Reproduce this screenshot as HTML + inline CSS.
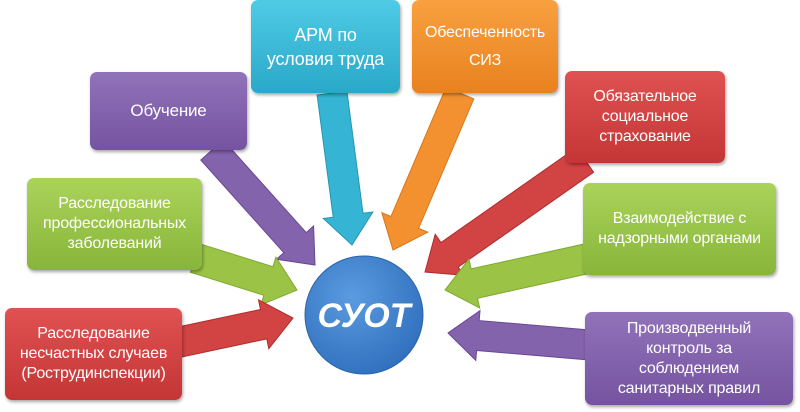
<!DOCTYPE html>
<html><head><meta charset="utf-8"><style>
body{margin:0;background:#fff;width:800px;height:412px;overflow:hidden;font-family:"Liberation Sans","Noto Sans CJK SC",sans-serif}
svg{position:absolute;left:0;top:0}
.b{position:absolute;border-radius:7px;color:#fff;display:flex;align-items:center;justify-content:center;text-align:center;font-size:16px;line-height:20px;box-shadow:1px 2px 3px rgba(0,0,0,.35);box-sizing:border-box;padding:0 3px;letter-spacing:-0.2px}
</style></head><body>
<svg width="800" height="412" id="s"><defs>
<radialGradient id="cg" cx="40%" cy="35%" r="70%"><stop offset="0" stop-color="#5b9be0"/><stop offset="1" stop-color="#2f6fbd"/></radialGradient>
</defs><g id="ar"></g>
<circle cx="364" cy="315" r="59" fill="url(#cg)" stroke="#2c64a8" stroke-width="1"/>
<text x="364" y="327" text-anchor="middle" font-family="Liberation Sans, sans-serif" font-size="34" font-weight="bold" font-style="italic" fill="#fff">СУОТ</text>
</svg>
<div class="b" style="left:251px;top:0;width:149px;height:93px;background:linear-gradient(#4fcbe6,#2aa8c8);font-size:18px;line-height:24px">АРМ по<br>условия труда</div>
<div class="b" style="left:412px;top:0;width:146px;height:93px;background:linear-gradient(#f9a040,#e8821f);line-height:28px">Обеспеченность<br>СИЗ</div>
<div class="b" style="left:90px;top:72px;width:157px;height:78px;background:linear-gradient(#9173b9,#7553a0);font-size:17px">Обучение</div>
<div class="b" style="left:27px;top:178px;width:175px;height:92px;background:linear-gradient(#aad35a,#88b53a)">Расследование<br>профессиональных<br>заболеваний</div>
<div class="b" style="left:5px;top:308px;width:177px;height:92px;background:linear-gradient(#e05252,#c43636)">Расследование<br>несчастных случаев<br>(Рострудинспекции)</div>
<div class="b" style="left:565px;top:71px;width:160px;height:92px;background:linear-gradient(#e05252,#c43636)">Обязательное<br>социальное<br>страхование</div>
<div class="b" style="left:583px;top:183px;width:193px;height:92px;background:linear-gradient(#aad35a,#88b53a)">Взаимодействие с<br>надзорными органами</div>
<div class="b" style="left:585px;top:312px;width:208px;height:93px;background:linear-gradient(#9173b9,#7553a0)">Производвенный<br>контроль за<br>соблюдением<br>санитарных правил</div>
<script>
var A=[[332,93,352,245,'#35b5d3','#2596b3'],[460,93,393,250,'#f39130','#d8761c'],[212,150,315,265,'#8463ad','#684893'],[195,258,297,290,'#9bc446','#7ea82f'],[175,343,293,318,'#d24343','#b02c2c'],[585,160,425,272,'#d24343','#b02c2c'],[590,258,445,290,'#9bc446','#7ea82f'],[590,345,448,333,'#8463ad','#684893']];
var g=document.getElementById('ar'),h='';
A.forEach(function(a){var x1=a[0],y1=a[1],x2=a[2],y2=a[3];var dx=x2-x1,dy=y2-y1,L=Math.hypot(dx,dy),ux=dx/L,uy=dy/L,nx=-uy,ny=ux;var sw=15,hw=25,hl=30;var bx=x2-ux*hl,by=y2-uy*hl;
var p=[[x1+nx*sw,y1+ny*sw],[bx+nx*sw,by+ny*sw],[bx+nx*hw,by+ny*hw],[x2,y2],[bx-nx*hw,by-ny*hw],[bx-nx*sw,by-ny*sw],[x1-nx*sw,y1-ny*sw]];
h+='<polygon points="'+p.map(function(q){return q[0].toFixed(1)+','+q[1].toFixed(1)}).join(' ')+'" fill="'+a[4]+'" stroke="'+a[5]+'" stroke-width="1"/>';});
g.innerHTML=h;
</script>
</body></html>
